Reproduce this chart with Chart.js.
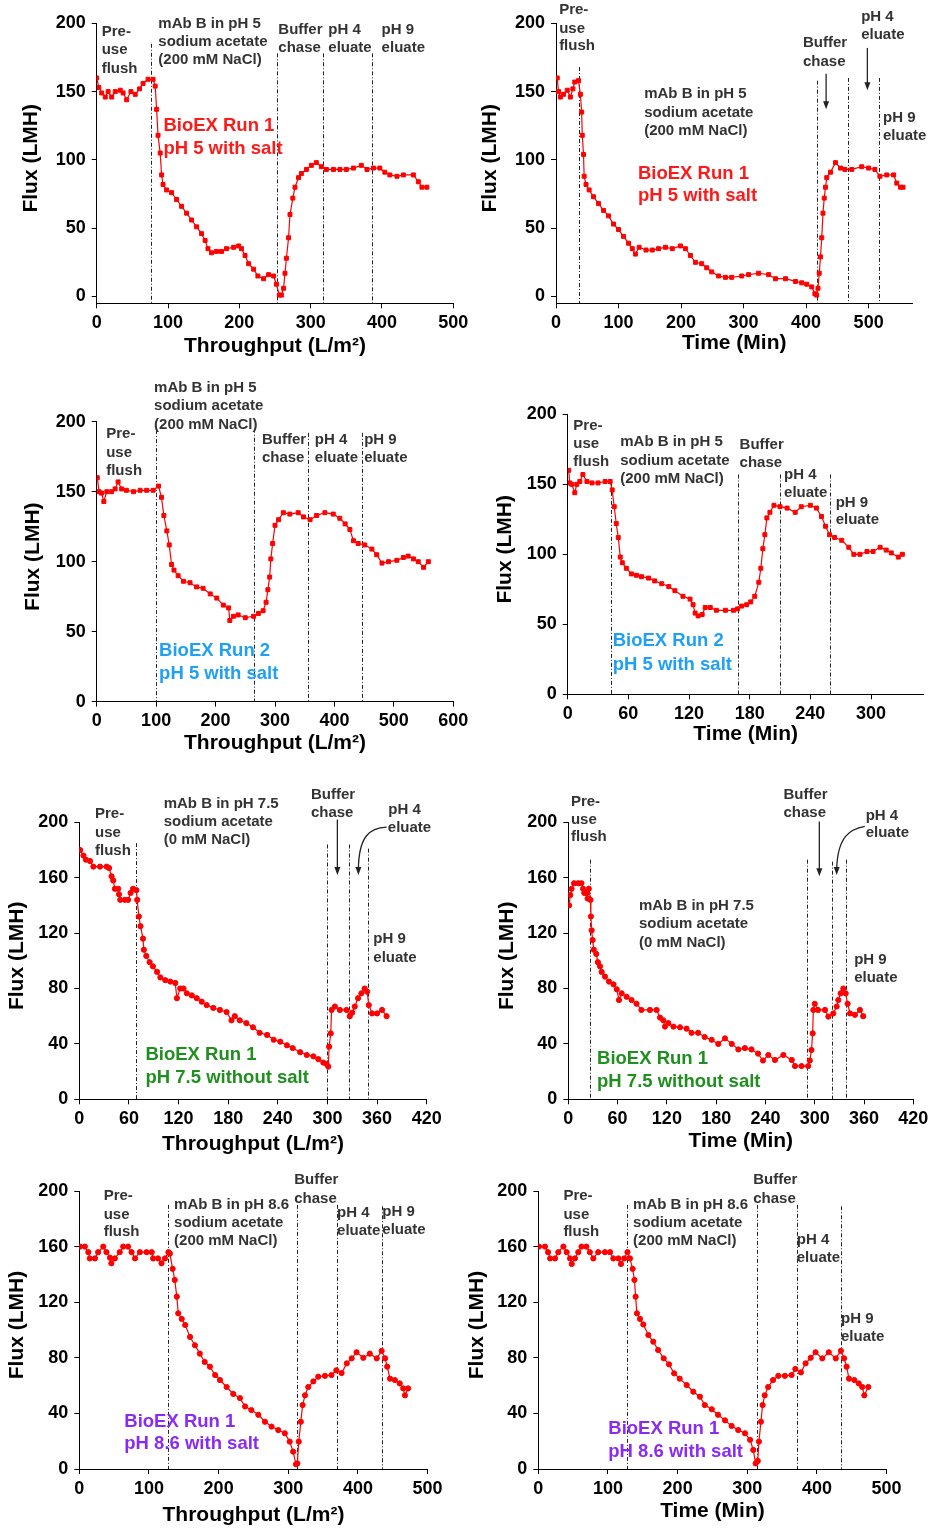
<!DOCTYPE html>
<html>
<head>
<meta charset="utf-8">
<script src="https://cdn.jsdelivr.net/npm/chart.js@4.4.0/dist/chart.umd.min.js"></script>
<style>
  html, body { margin: 0; padding: 0; background: #fff; width: 930px; height: 1529px; overflow: hidden; }
  canvas { position: absolute; }
</style>
</head>
<body>
<canvas id="c1"></canvas><canvas id="c2"></canvas>
<canvas id="c3"></canvas><canvas id="c4"></canvas>
<canvas id="c5"></canvas><canvas id="c6"></canvas>
<canvas id="c7"></canvas><canvas id="c8"></canvas>
<script>
// Ticks
const yTicks50 = [0, 50, 100, 150, 200];
const yTicks40 = [0, 40, 80, 120, 160, 200];
const xTicks100 = [0, 100, 200, 300, 400, 500];
const xTicks100to600 = [0, 100, 200, 300, 400, 500, 600];
const xTicks60to300 = [0, 60, 120, 180, 240, 300];
const xTicks60 = [0, 60, 120, 180, 240, 300, 360, 420];

// Run 1, pH 5 with salt - throughput
const thr1X = [0,3,7,12,16,21,26,33,37,42,48,54,60,65,72,79,82,84,86,89,91,93,98,105,112,119,126,133,140,147,152,156,161,168,175,182,192,199,203,208,213,220,226,234,241,248,252,256,259,262,264,266,269,271,275,278,283,287,294,301,308,315,322,332,341,350,360,371,379,388,397,404,411,421,430,444,451,456,463];
const thr1Y = [160,153,149,146,150,146,150,151,149,144,150,148,152,156,159,159,154,137,118,105,89,82,78,76,71,66,61,56,51,46,41,35,32,33,33,35,36,37,35,30,24,20,15,13,16,15,9,1,1,6,17,28,43,60,72,80,87,90,93,96,98,95,93,93,93,93,94,96,93,94,94,91,89,88,89,89,84,80,80];
const thr1Phases = [76, 253, 318, 386];

// Run 1, pH 5 with salt - time
const time1X = [2,4,7,12,18,23,27,30,36,39,41,42,44,45,48,53,60,68,76,84,92,100,108,116,122,127,133,144,154,164,175,186,199,207,215,223,233,241,249,260,271,281,297,308,324,340,351,367,383,393,401,409,414,417,419,421,423,425,427,429,431,433,439,447,455,462,473,489,500,510,518,529,540,545,551,555];
const time1Y = [160,150,146,148,151,146,152,157,158,148,135,118,104,88,82,78,73,68,63,59,53,49,44,39,35,31,36,34,34,35,36,35,37,35,30,25,24,21,18,15,14,14,15,16,17,16,13,13,11,10,9,7,2,1,6,17,29,43,61,72,80,87,91,98,94,93,93,95,94,93,88,89,89,83,80,80];
const time1Phases = [36, 418, 467, 516];

// Run 2, pH 5 with salt - throughput
const thr2X = [1,4,8,12,17,25,31,36,42,50,62,73,84,95,104,109,113,118,122,126,130,137,146,157,168,179,191,202,213,222,224,230,238,250,264,272,280,285,288,291,293,296,300,306,314,325,339,348,359,370,384,398,409,418,426,432,440,451,463,471,480,491,505,516,524,533,541,550,558];
const thr2Y = [160,150,149,143,150,150,152,157,152,151,150,151,151,151,154,146,133,122,112,98,94,90,86,85,82,81,77,74,69,67,58,61,62,60,61,63,65,71,80,89,102,113,126,130,135,134,135,132,130,133,135,134,131,127,123,115,113,112,109,105,99,100,101,103,104,102,100,96,100];
const thr2Phases = [99, 265, 356, 447];

// Run 2, pH 5 with salt - time
const time2X = [1,2,4,7,9,12,15,19,24,30,37,42,44,46,48,50,52,54,58,63,68,73,80,86,93,100,106,114,121,124,126,129,133,136,141,147,156,164,168,172,177,181,185,189,191,193,195,197,200,204,210,217,225,231,240,246,251,255,259,264,271,278,283,289,296,302,309,315,320,327,331];
const time2Y = [160,151,150,144,150,152,157,152,151,151,152,152,146,134,122,112,98,94,90,86,85,84,83,81,79,77,74,70,68,64,58,56,57,62,62,60,60,60,61,63,64,66,70,80,90,104,114,126,130,135,134,133,130,134,135,133,127,120,114,112,110,105,100,100,102,102,105,103,101,98,100];
const time2Phases = [42.5, 168, 210, 259.5];

// Run 1, pH 7.5 without salt - throughput
const thr3X = [1,5,8,13,17,25,33,36,39,41,43,47,48,49.5,55,59,62,65,69,70,72,74,77,78,81,85,89,94,98,104,110,116,118,122,126,130,136,142,148,154,162,170,178,184,188,194,202,210,218,227,235,243,251,258,267,275,283,289,295,299,301,302,304,305,309,315,323,327,330,333,337,341,345,348,350,354,360,366,371.5];
const thr3Y = [180,176,173,172,168,168,168,167,161,158,152,152,148,144,144,144,149,152,151,144,132,125,116,108,103.5,99,96,92,88,86,85,84,73,80,80,76.5,75,73,70.5,68,66,64.5,63,57,60,57,55,52,48,46.5,43,41.6,39,37,34,32,31,29,26.5,25.5,23.6,38,47.6,64.5,67,64.5,64.5,60,62.6,67,73,76.5,80,77.7,68,62,62,64.5,60];
const thr3Phases = [68, 300, 326.5, 349.5];

// Run 1, pH 7.5 without salt - time
const time3X = [1,2.4,4,7,12,16,18,19.5,22,23.5,25,27,27.5,28.4,29.6,31,34,36,38.6,40.6,44.6,49.5,55,59,61.7,65,71,77,83,89,99.4,107.5,111.6,115.7,117.7,121.8,128,136,144,150,158,166,174.5,182.6,190.7,199,207,215,223,231,237,243.5,251.6,261.8,272,276,284,292,294,296,297.5,298.3,300,304,312.5,316.6,322.6,326.7,328.7,331.6,334.8,337.7,340,343,349,355,359];
const time3Y = [140,147.5,152,156,156,156,152,149,149,145,152,144,132,122,115,108,105,99,96,92,88.6,85,83,79.4,71.7,76.5,74,71.7,69,64.5,64.5,64.5,59,57,52.5,55,52.5,52,51,48,48,45,43,40,44,40,36,37,36,33,28,32,28.4,32,28.4,24,24,24,28,35.6,47.6,64.5,69,64.5,64.5,59.7,62,67,71.7,76.5,80,76.5,69,62,61,64.5,60];
const time3Phases = [26.4, 291, 320.6, 338];

// Run 1, pH 8.6 with salt - throughput
const thr4X = [1,8,13,15,22.5,27,34.4,39,44,46,51,58,63,70,75,80,87,96.6,104,106,113,118,123,128,130,134,137,140,142,147,152,159,166,173,180,187.5,195,202,211.5,221,230.6,238,247,257,266.5,276,285.6,295,302,307,311,313,315,318,320.6,324,328.7,336,343,352.6,362,369,376.5,384,391,398,407.7,417,427,434,439,442,446,453,460,465,467.5,472];
const thr4Y = [160,160,156,151.5,151.5,156,160,156,152,148,151.5,156,160,160,156,151.5,156,156,156,151.5,151.5,148,151.5,156,155,144,136,124,112,108,103.6,95,89,83,77,73.6,67.6,64,59,54,51,45,42.4,39,34,30.5,28,25.7,19.7,12.5,3.4,4,19.7,34,46,53,59,63,66.4,67,67.6,71,69,76,79.6,84,80,83,79.6,85,79.6,73.6,65,64,61.6,58,53,58];
const thr4Phases = [127, 313, 370, 434];

// Run 1, pH 8.6 with salt - time
const time4X = [1,9.6,14,17,24,28.7,36,40.7,45.5,48,52.6,57.4,62,69,74,79,86,95.7,103,107.7,115,118.7,123.4,128,131.6,135.4,138,139.7,141.6,146,150.7,158,165,172,180,187.6,195,203,213,222.5,232,239,249,258,268,277.5,287,296.7,304,308.6,312,315,316.7,319.6,322,325,330,337,344.5,354,363.6,369,377,383.7,391,398,407.7,417,427,434.4,439,442.6,446,453.6,460,465,468,473.7];
const time4Y = [160,160,156,151.5,151.5,156,160,156,151.5,147.5,151.5,156,160,160,156,151.5,156,156,156,151.5,151.5,147.5,151.5,156,151.5,144,136,124,112,108,104,96.4,91.6,85.6,79.6,75.3,68.8,65,60.4,55.6,52,46,43,39,35,31,28,25.7,21,13.7,4,5.8,19.7,34,46,53,59,64,67,67,67.6,72,69.5,76,80,84,79.6,84,79.6,85,79.6,73.6,65,64,61.6,59,53,59];
const time4Phases = [127.8, 314, 371, 434.5];

const FONT = '"Liberation Sans", Arial, Helvetica, sans-serif';
const RED = '#ff0000';
const NOTE = '#333333';
const THR = 'Throughput (L/m\u00B2)';
const TIME = 'Time (Min)';

Chart.defaults.font.family = FONT;

// layout of each panel: box = canvas [left, top, w, h], plot = [left, top, right, bottom] in page px
const panels = [
  {
    id: 'c1', box: [0, 0, 480, 365], plot: [96.7, 23.3, 453.3, 303.3],
    xs: thr1X, ys: thr1Y, xMax: 500, yMin: -5, xTicks: xTicks100, yTicks: yTicks50,
    marker: 'rect', xTitle: THR, xTitleDy: 43, yTitleDx: -65,
    phases: thr1Phases, phaseTops: [185, 178, 178, 178],
    notes: [['Pre-', 7, 194], ['use', 7, 180.5], ['flush', 7, 167],
      ['mAb B in pH 5', 86.4, 199.5], ['sodium acetate', 86.4, 186.6], ['(200 mM NaCl)', 86.4, 173],
      ['Buffer', 254.7, 195], ['chase', 254.7, 181.7], ['pH 4', 324.8, 195], ['eluate', 324.8, 181.7],
      ['pH 9', 399.5, 195], ['eluate', 399.5, 181.7]],
    label: ['BioEX Run 1', 'pH 5 with salt'], labelAt: [93.5, 125, 108], labelColor: '#ff1a1a',
    arrows: []
  },
  {
    id: 'c2', box: [465, 0, 465, 365], plot: [556, 23.3, 912.4, 303.3],
    xs: time1X, ys: time1Y, xMax: 570, yMin: -5, xTicks: xTicks100, yTicks: yTicks50,
    marker: 'rect', xTitle: TIME, xTitleDy: 40, yTitleDx: -66,
    phases: time1Phases, phaseTops: [168, 158, 160, 160],
    notes: [['Pre-', 5, 210], ['use', 5, 196], ['flush', 5, 183.5],
      ['mAb B in pH 5', 141, 148], ['sodium acetate', 141, 134.5], ['(200 mM NaCl)', 141, 121],
      ['Buffer', 395, 186], ['chase', 395, 172], ['pH 4', 488, 205], ['eluate', 488, 191.5],
      ['pH 9', 523, 131], ['eluate', 523, 117.5]],
    label: ['BioEX Run 1', 'pH 5 with salt'], labelAt: [131, 90, 73.5], labelColor: '#ff1a1a',
    arrows: [[432, 163, 432, 137], [498, 182, 498, 151]]
  },
  {
    id: 'c3', box: [0, 370, 480, 390], plot: [96.7, 421.7, 453.3, 701.7],
    xs: thr2X, ys: thr2Y, xMax: 600, yMin: 0, xTicks: xTicks100to600, yTicks: yTicks50,
    marker: 'rect', xTitle: THR, xTitleDy: 41.5, yTitleDx: -63.5,
    phases: thr2Phases, phaseTops: [194, 195, 192, 192],
    notes: [['Pre-', 16, 191], ['use', 16, 178], ['flush', 16, 165],
      ['mAb B in pH 5', 96.5, 224], ['sodium acetate', 96.5, 211], ['(200 mM NaCl)', 96.5, 198],
      ['Buffer', 278, 187], ['chase', 278, 174], ['pH 4', 367, 187], ['eluate', 367, 174],
      ['pH 9', 450, 187], ['eluate', 450, 174]],
    label: ['BioEX Run 2', 'pH 5 with salt'], labelAt: [105, 36, 20], labelColor: '#1ea0f5',
    arrows: []
  },
  {
    id: 'c4', box: [465, 370, 465, 390], plot: [567.7, 414.3, 923.6, 694.3],
    xs: time2X, ys: time2Y, xMax: 352, yMin: 0, xTicks: xTicks60to300, yTicks: yTicks50,
    marker: 'rect', xTitle: TIME, xTitleDy: 40, yTitleDx: -62.7,
    phases: time2Phases, phaseTops: [151, 157, 157, 157],
    notes: [['Pre-', 5.6, 192], ['use', 5.6, 179], ['flush', 5.6, 166],
      ['mAb B in pH 5', 52, 180], ['sodium acetate', 52, 167], ['(200 mM NaCl)', 52, 154],
      ['Buffer', 170, 178], ['chase', 170, 165], ['pH 4', 214, 157], ['eluate', 214, 144],
      ['pH 9', 265, 137], ['eluate', 265, 124.5]],
    label: ['BioEX Run 2', 'pH 5 with salt'], labelAt: [44.5, 38, 21], labelColor: '#1ea0f5',
    arrows: []
  },
  {
    id: 'c5', box: [0, 780, 465, 380], plot: [79.3, 822.3, 426.7, 1099.3],
    xs: thr3X, ys: thr3Y, xMax: 420, yMin: 0, xTicks: xTicks60, yTicks: yTicks40,
    marker: 'circle', xTitle: THR, xTitleDy: 45, yTitleDx: -62,
    phases: thr3Phases, phaseTops: [185, 184, 184, 181],
    notes: [['Pre-', 19, 206], ['use', 19, 192.5], ['flush', 19, 179.5],
      ['mAb B in pH 7.5', 102, 213], ['sodium acetate', 102, 200], ['(0 mM NaCl)', 102, 187],
      ['Buffer', 280, 220], ['chase', 280, 207], ['pH 4', 373.6, 209], ['eluate', 373, 196],
      ['pH 9', 355.5, 115.5], ['eluate', 355.5, 102]],
    label: ['BioEX Run 1', 'pH 7.5 without salt'], labelAt: [80, 32, 15.6], labelColor: '#1f8f1f',
    arrows: [[312, 202, 312, 162]],
    curves: [[371.5, 196.5, 351, 196, 338, 190, 337.4, 162]]
  },
  {
    id: 'c6', box: [465, 780, 470, 380], plot: [568.3, 822.3, 913.3, 1099.3],
    xs: time3X, ys: time3Y, xMax: 420, yMin: 0, xTicks: xTicks60, yTicks: yTicks40,
    marker: 'circle', xTitle: TIME, xTitleDy: 42, yTitleDx: -60.6,
    phases: time3Phases, phaseTops: [173, 173, 171.6, 173],
    notes: [['Pre-', 3.2, 215], ['use', 3.2, 202], ['flush', 3.2, 189.6],
      ['mAb B in pH 7.5', 86, 139.6], ['sodium acetate', 86, 126.6], ['(0 mM NaCl)', 86, 113],
      ['Buffer', 262, 220], ['chase', 262, 206.5], ['pH 4', 362, 205], ['eluate', 362, 192.5],
      ['pH 9', 348, 101], ['eluate', 348, 88]],
    label: ['BioEX Run 1', 'pH 7.5 without salt'], labelAt: [35, 29, 12.8], labelColor: '#1f8f1f',
    arrows: [[305.6, 200.5, 305.6, 161]],
    curves: [[361, 197, 343, 195, 328, 190, 326.7, 162]]
  },
  {
    id: 'c7', box: [0, 1165, 465, 364], plot: [79.3, 1191, 427.6, 1469],
    xs: thr4X, ys: thr4Y, xMax: 500, yMin: 0, xTicks: xTicks100, yTicks: yTicks40,
    marker: 'circle', xTitle: THR, xTitleDy: 46, yTitleDx: -62,
    phases: thr4Phases, phaseTops: [190, 190, 190, 189],
    notes: [['Pre-', 35, 196.6], ['use', 35, 183], ['flush', 35, 170.7],
      ['mAb B in pH 8.6', 136, 190], ['sodium acetate', 136, 177], ['(200 mM NaCl)', 136, 164],
      ['Buffer', 308.6, 208], ['chase', 308.6, 194.7], ['pH 4', 370, 184], ['eluate', 370, 171],
      ['pH 9', 435, 185], ['eluate', 435, 172]],
    label: ['BioEX Run 1', 'pH 8.6 with salt'], labelAt: [64.6, 34, 17.7], labelColor: '#8a2bf5',
    arrows: []
  },
  {
    id: 'c8', box: [465, 1165, 465, 364], plot: [538.3, 1191, 886.6, 1469],
    xs: time4X, ys: time4Y, xMax: 500, yMin: 0, xTicks: xTicks100, yTicks: yTicks40,
    marker: 'circle', xTitle: TIME, xTitleDy: 42.7, yTitleDx: -60.6,
    phases: time4Phases, phaseTops: [190, 190, 190, 189],
    notes: [['Pre-', 36, 196.6], ['use', 36, 183], ['flush', 36, 170.7],
      ['mAb B in pH 8.6', 136, 190], ['sodium acetate', 136, 177], ['(200 mM NaCl)', 136, 164],
      ['Buffer', 308.6, 208], ['chase', 308.6, 194.7], ['pH 4', 371, 164.7], ['eluate', 371, 152],
      ['pH 9', 434.5, 108], ['eluate', 434.5, 95]],
    label: ['BioEX Run 1', 'pH 8.6 with salt'], labelAt: [100.5, 28.5, 12.5], labelColor: '#8a2bf5',
    arrows: []
  }
];

function arrowHead(ctx, x, y) {
  ctx.beginPath();
  ctx.moveTo(x, y);
  ctx.lineTo(x - 3, y - 8);
  ctx.lineTo(x + 3, y - 8);
  ctx.closePath();
  ctx.fill();
}

// phase lines, notes, arrows and axis titles
function decor(p) {
  return {
    id: 'decor_' + p.id,
    beforeDatasetsDraw(chart) {
      const { ctx, scales: { x, y }, chartArea } = chart;
      ctx.save();
      ctx.strokeStyle = '#222';
      ctx.lineWidth = 1;
      ctx.setLineDash([4, 2, 1, 2]);
      p.phases.forEach((v, i) => {
        const px = Math.round(x.getPixelForValue(v)) + 0.5;
        ctx.beginPath();
        ctx.moveTo(px, y.getPixelForValue(p.phaseTops[i]));
        ctx.lineTo(px, chartArea.bottom);
        ctx.stroke();
      });
      ctx.restore();
    },
    afterDraw(chart) {
      const { ctx, scales: { x, y }, chartArea } = chart;
      ctx.save();
      ctx.textBaseline = 'middle';
      ctx.textAlign = 'left';
      ctx.fillStyle = NOTE;
      ctx.font = 'bold 15px ' + FONT;
      p.notes.forEach(([t, vx, vy]) => ctx.fillText(t, x.getPixelForValue(vx), y.getPixelForValue(vy)));

      ctx.fillStyle = p.labelColor;
      ctx.font = 'bold 18.5px ' + FONT;
      const [lx, ly1, ly2] = p.labelAt;
      ctx.fillText(p.label[0], x.getPixelForValue(lx), y.getPixelForValue(ly1));
      ctx.fillText(p.label[1], x.getPixelForValue(lx), y.getPixelForValue(ly2));

      // arrows
      ctx.strokeStyle = '#222';
      ctx.fillStyle = '#222';
      ctx.lineWidth = 1.3;
      p.arrows.forEach(([x1, y1, x2, y2]) => {
        const ax = x.getPixelForValue(x1), ay1 = y.getPixelForValue(y1), ay2 = y.getPixelForValue(y2);
        ctx.beginPath();
        ctx.moveTo(ax, ay1);
        ctx.lineTo(x.getPixelForValue(x2), ay2 - 6);
        ctx.stroke();
        arrowHead(ctx, x.getPixelForValue(x2), ay2);
      });
      (p.curves || []).forEach(([x0, y0, c1x, c1y, c2x, c2y, ex, ey]) => {
        const ax = x.getPixelForValue(ex), ay = y.getPixelForValue(ey);
        ctx.beginPath();
        ctx.moveTo(x.getPixelForValue(x0), y.getPixelForValue(y0));
        ctx.bezierCurveTo(x.getPixelForValue(c1x), y.getPixelForValue(c1y),
          x.getPixelForValue(c2x), y.getPixelForValue(c2y), ax, ay - 6);
        ctx.stroke();
        arrowHead(ctx, ax, ay);
      });

      // axis titles
      ctx.fillStyle = '#000';
      ctx.font = 'bold 21px ' + FONT;
      ctx.textAlign = 'center';
      ctx.fillText(p.xTitle, (chartArea.left + chartArea.right) / 2, chartArea.bottom + p.xTitleDy);
      ctx.translate(chartArea.left + p.yTitleDx, (chartArea.top + chartArea.bottom) / 2 - 5);
      ctx.rotate(-Math.PI / 2);
      ctx.fillText('Flux (LMH)', 0, 0);
      ctx.restore();
    }
  };
}

function makePanel(p) {
  const cv = document.getElementById(p.id);
  const [cl, ct, cw, ch] = p.box;
  const [pl, pt, pr, pb] = p.plot;
  cv.width = cw;
  cv.height = ch;
  cv.style.left = cl + 'px';
  cv.style.top = ct + 'px';

  const axis = {
    grid: { display: true, drawOnChartArea: false, drawTicks: true, tickLength: 5, color: '#000', lineWidth: 1 },
    border: { display: true, color: '#000', width: 1 },
    ticks: { color: '#000', font: { size: 18, weight: 'bold' }, maxRotation: 0, autoSkip: false }
  };

  return new Chart(cv, {
    type: 'line',
    data: {
      datasets: [{
        data: p.xs.map((v, i) => ({ x: v, y: p.ys[i] })),
        borderColor: RED,
        borderWidth: 1.2,
        pointStyle: p.marker,
        pointRadius: p.marker === 'rect' ? 2.8 : 2.6,
        pointBackgroundColor: RED,
        pointBorderColor: RED,
        pointBorderWidth: 1,
        tension: 0
      }]
    },
    options: {
      responsive: false,
      animation: false,
      events: [],
      layout: { padding: { left: 0, top: pt - ct, right: cl + cw - pr, bottom: 0 } },
      plugins: { legend: { display: false }, tooltip: { enabled: false } },
      scales: {
        x: {
          ...axis,
          type: 'linear', min: 0, max: p.xMax,
          ticks: { ...axis.ticks, padding: 4 },
          afterBuildTicks: s => { s.ticks = p.xTicks.map(v => ({ value: v })); },
          afterFit: s => { s.height = ct + ch - pb; }
        },
        y: {
          ...axis,
          min: p.yMin, max: 200,
          ticks: { ...axis.ticks, padding: 6 },
          afterBuildTicks: s => { s.ticks = p.yTicks.map(v => ({ value: v })); },
          afterFit: s => { s.width = pl - cl; }
        }
      }
    },
    plugins: [decor(p)]
  });
}

panels.forEach(makePanel);
</script>
</body>
</html>
